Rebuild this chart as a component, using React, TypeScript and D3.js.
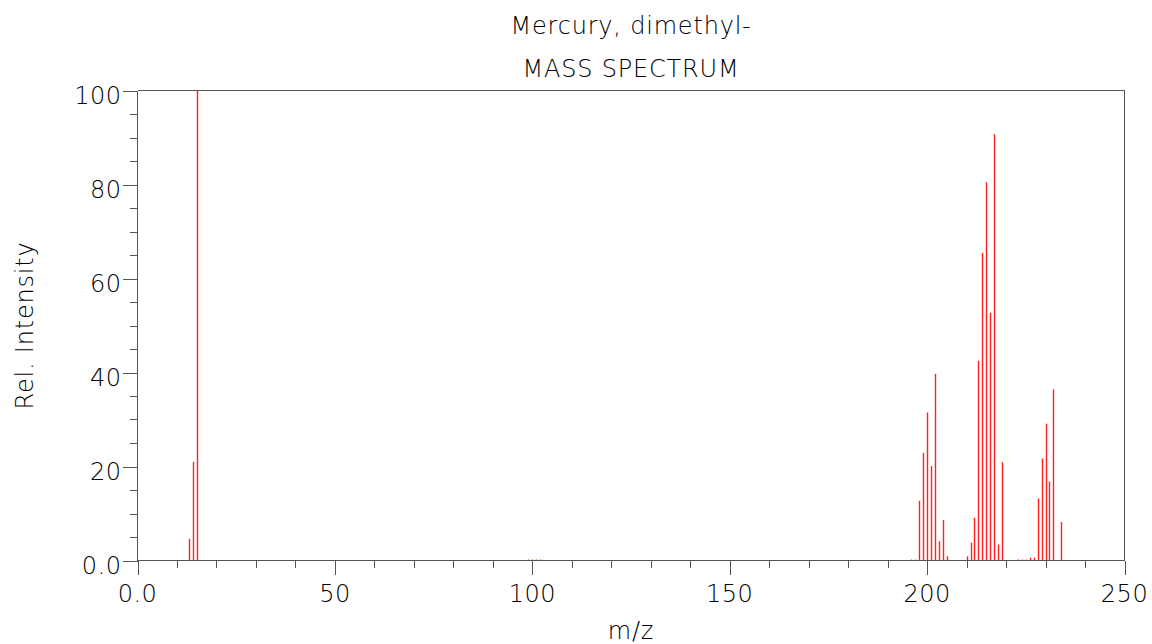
import React from "react";
import * as d3 from "d3";

// Mass spectrum of dimethylmercury: m/z values and relative intensities (%)
const mzValues: number[] = [
  13, 14, 15,
  99, 100, 101, 102,
  196, 197, 198, 199, 200, 201, 202, 203, 204, 205,
  210, 211, 212, 213, 214, 215, 216, 217, 218, 219,
  223, 224, 225, 226, 227, 228, 229, 230, 231, 232, 234,
];
const intensities: number[] = [
  4.6, 21.0, 100,
  0.2, 0.2, 0.2, 0.2,
  0.2, 0.2, 12.7, 22.9, 31.5, 20.1, 39.7, 4.1, 8.6, 0.9,
  0.9, 3.8, 9.1, 42.5, 65.4, 80.5, 52.7, 90.7, 3.4, 20.9,
  0.2, 0.2, 0.2, 0.6, 0.6, 13.2, 21.7, 29.1, 16.8, 36.4, 8.2,
];

const xMajorTicks: number[] = [0, 50, 100, 150, 200, 250];
const xMinorTicks: number[] = d3.range(0, 251, 10);
const yMajorTicks: number[] = [0, 20, 40, 60, 80, 100];
const yMinorTicks: number[] = d3.range(0, 101, 5);

const titleLines: string[] = ["Mercury, dimethyl-", "MASS SPECTRUM"];
const xLabel = "m/z";
const yLabel = "Rel. Intensity";

const fmtX = (v: number) => (v === 0 ? "0.0" : String(v));
const fmtY = (v: number) => (v === 0 ? "0.0" : String(v));

export default function App() {
  const width = 1152;
  const height = 644;
  const left = 137.5;
  const right = 1124.5;
  const top = 90.5;
  const bottom = 560.5;

  const x = d3.scaleLinear().domain([0, 250]).range([left, right]);
  const y = d3.scaleLinear().domain([0, 100]).range([bottom, top]);

  const axisColor = "#555";
  const font = "'DejaVu Sans', sans-serif";
  const fontWeight = 200;
  const fontSize = 24;
  const cx = (left + right) / 2;

  const peaks = mzValues.map((m, i) => ({ m, v: intensities[i] }));

  return (
    <svg
      width={width}
      height={height}
      style={{ position: "absolute", left: 0, top: 0, background: "#fff" }}
      fontFamily={font}
      fontWeight={fontWeight}
    >
      {/* peaks */}
      <g stroke="#ff2020" strokeWidth={1.4}>
        {peaks.map((p) => (
          <line
            key={p.m}
            x1={Math.round(x(p.m)) + 0.5}
            x2={Math.round(x(p.m)) + 0.5}
            y1={y(0)}
            y2={Math.min(y(p.v), y(0) - 0.6)}
          />
        ))}
      </g>

      {/* frame and axes */}
      <g stroke={axisColor} strokeWidth={1.6} fill="none" shapeRendering="crispEdges">
        <line x1={left} x2={right} y1={bottom} y2={bottom} />
        <line x1={left} x2={left} y1={top} y2={bottom} />
        <line x1={left} x2={right} y1={top} y2={top} />
        <line x1={right} x2={right} y1={top} y2={bottom} />
        {xMinorTicks.map((t) => (
          <line
            key={"xm" + t}
            x1={Math.round(x(t)) + 0.5}
            x2={Math.round(x(t)) + 0.5}
            y1={bottom}
            y2={bottom + (xMajorTicks.includes(t) ? 14 : 7)}
          />
        ))}
        {yMinorTicks.map((t) => (
          <line
            key={"ym" + t}
            x1={left - (yMajorTicks.includes(t) ? 15 : 8)}
            x2={left}
            y1={Math.round(y(t)) + 0.5}
            y2={Math.round(y(t)) + 0.5}
          />
        ))}
      </g>

      {/* tick labels */}
      <g fill="#000" fontSize={fontSize} letterSpacing={0.5}>
        {xMajorTicks.map((t) => (
          <text key={"xl" + t} x={x(t)} y={bottom + 41} textAnchor="middle">
            {fmtX(t)}
          </text>
        ))}
        {yMajorTicks.map((t) => (
          <text key={"yl" + t} x={left - 16} y={y(t) + 13.5} textAnchor="end">
            {fmtY(t)}
          </text>
        ))}
      </g>

      {/* titles */}
      <g fill="#000" fontSize={fontSize} textAnchor="middle" letterSpacing={0.8}>
        <text x={cx} y={34}>{titleLines[0]}</text>
        <text x={cx} y={77}>{titleLines[1]}</text>
        <text x={cx} y={639}>{xLabel}</text>
        <text transform={`translate(33,${(top + bottom) / 2}) rotate(-90)`}>{yLabel}</text>
      </g>
    </svg>
  );
}
